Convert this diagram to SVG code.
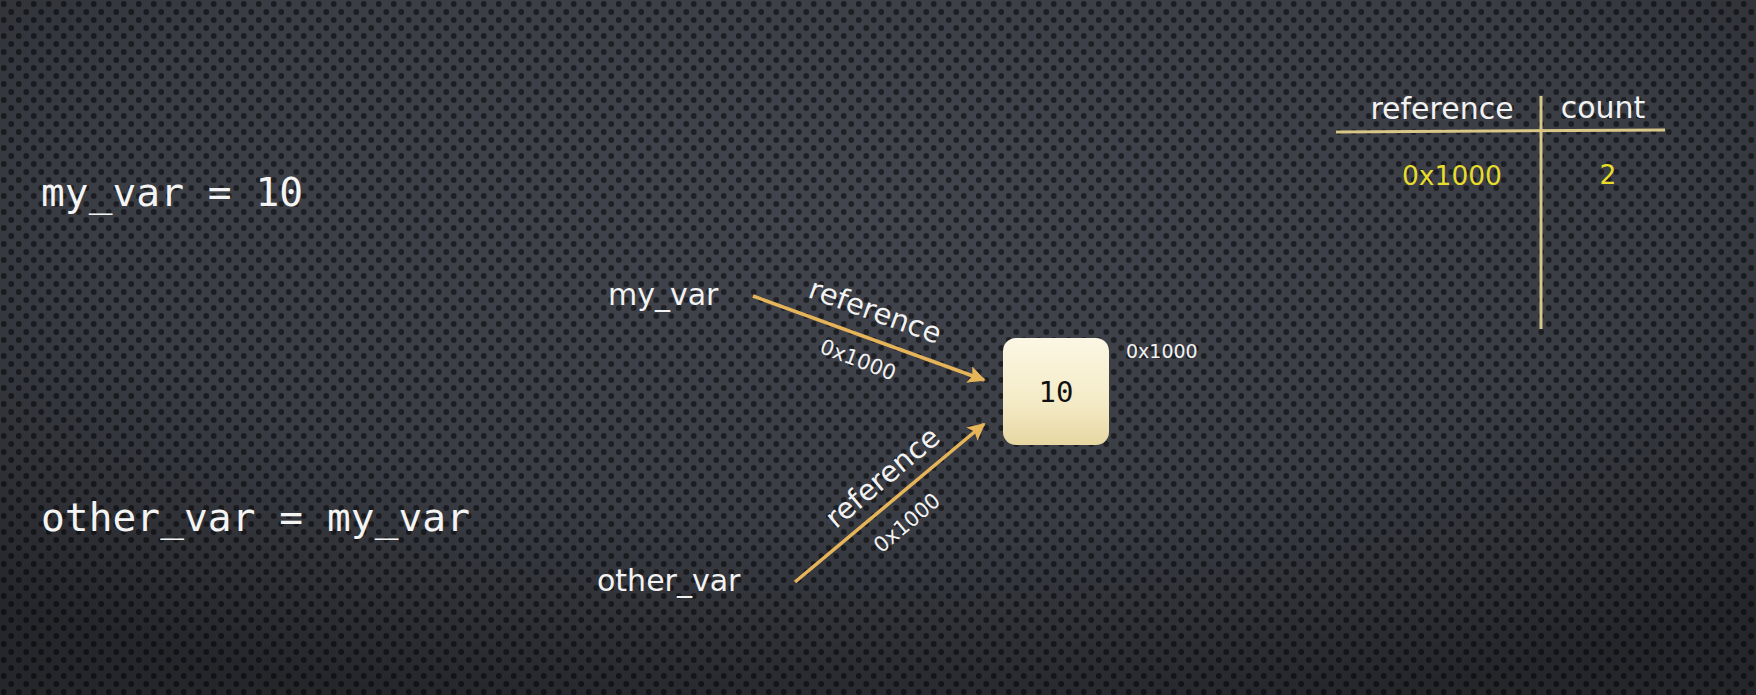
<svg xmlns="http://www.w3.org/2000/svg" width="1756" height="695" viewBox="0 0 1756 695">
<style>
.code{font-family:"DejaVu Sans Mono","Liberation Mono",monospace;font-size:39.5px;letter-spacing:0.05px;fill:#f4f4f4}
.lbl{font-family:"DejaVu Sans","Liberation Sans",sans-serif;fill:#f2f2f2}
.arrow{stroke:#e6b55a;stroke-width:3.5;fill:none;marker-end:url(#ah)}
.tline{stroke:#d9c787;stroke-width:3;fill:none}
.yel{font-family:"DejaVu Sans","Liberation Sans",sans-serif;fill:#e6dd2c;font-size:26.5px}
</style>
<defs>
<pattern id="dots" width="15" height="16" patternUnits="userSpaceOnUse">
<circle cx="3.75" cy="4" r="2.9" fill="#1f2126"/>
<circle cx="11.25" cy="12" r="2.9" fill="#1f2126"/>
</pattern>
<radialGradient id="vig" cx="0.5" cy="0.3" r="0.75">
<stop offset="0" stop-color="#000" stop-opacity="0"/>
<stop offset="0.6" stop-color="#000" stop-opacity="0.12"/>
<stop offset="1" stop-color="#000" stop-opacity="0.45"/>
</radialGradient>
<linearGradient id="boxg" x1="0" y1="0" x2="0" y2="1">
<stop offset="0" stop-color="#fcf7e4"/>
<stop offset="0.6" stop-color="#f4ebc6"/>
<stop offset="1" stop-color="#e7d7a2"/>
</linearGradient>
<marker id="ah" viewBox="0 0 10 10" refX="9" refY="5" markerWidth="5" markerHeight="5" orient="auto" markerUnits="strokeWidth">
<path d="M0,0 L10,5 L0,10 L2,5 Z" fill="#e6b55a"/>
</marker>
</defs>
<rect width="1756" height="695" fill="#42454d"/>
<rect width="1756" height="695" fill="url(#dots)"/>
<rect width="1756" height="695" fill="url(#vig)"/>

<g id="code">
<text class="code" x="41" y="206">my_var = 10</text>
<text class="code" x="41" y="531">other_var = my_var</text>
</g>

<g id="connectors">
<line class="arrow" x1="753" y1="296" x2="984" y2="380"/>
<line class="arrow" x1="795" y1="582" x2="984" y2="424"/>
<text class="lbl" font-size="29" text-anchor="middle" transform="translate(875,312) rotate(20)" y="9">reference</text>
<text class="lbl" font-size="21" text-anchor="middle" transform="translate(858,360) rotate(21)" y="7">0x1000</text>
<text class="lbl" font-size="29" text-anchor="middle" transform="translate(883,478) rotate(-40)" y="9">reference</text>
<text class="lbl" font-size="21" text-anchor="middle" transform="translate(907,523) rotate(-40)" y="7">0x1000</text>
</g>

<g id="node-my_var">
<text class="lbl" font-size="30" x="608" y="305">my_var</text>
</g>
<g id="node-other_var">
<text class="lbl" font-size="30" x="597" y="591">other_var</text>
</g>

<g id="node-value">
<rect x="1003" y="338" width="106" height="107" rx="13" fill="url(#boxg)"/>
<text x="1056" y="402" text-anchor="middle" font-family="DejaVu Sans Mono, monospace" font-size="29" fill="#111">10</text>
<text class="lbl" font-size="19" x="1126" y="358">0x1000</text>
</g>

<g id="table">
<line class="tline" x1="1336" y1="132" x2="1665" y2="130"/>
<line class="tline" x1="1541" y1="96" x2="1541" y2="329"/>
<text class="lbl" font-size="30" text-anchor="middle" x="1442" y="119">reference</text>
<text class="lbl" font-size="30" text-anchor="middle" x="1603" y="118">count</text>
<text class="yel" text-anchor="middle" x="1452" y="185">0x1000</text>
<text class="yel" text-anchor="middle" x="1608" y="184">2</text>
</g>
</svg>
